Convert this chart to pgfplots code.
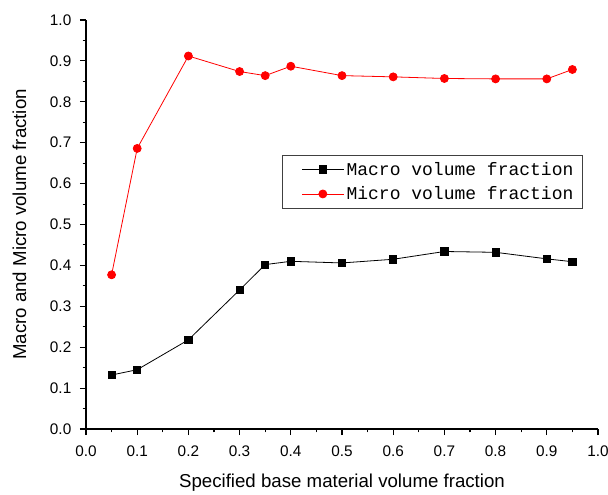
\documentclass[border=0pt]{standalone}
\usepackage{fontspec}
\setmainfont{Liberation Sans}
\newfontfamily\legfont{Liberation Mono}
\usepackage{pgfplots}
\pgfplotsset{compat=1.18}
\begin{document}
\begin{tikzpicture}
\path[use as bounding box] (-64.5pt,-48.75pt) rectangle (391.5pt,321.75pt);
\begin{axis}[
  scale only axis,
  width=384pt, height=306.75pt,
  xmin=0, xmax=1, ymin=0, ymax=1,
  axis lines=left,
  axis line style={-, line width=0.9pt},
  xtick={0,0.1,...,1.0}, ytick={0,0.1,...,1.0},
  minor x tick num=1, minor y tick num=1,
  tick align=outside,
  major tick length=4.5pt, minor tick length=2.5pt,
  tick style={black, line width=0.8pt},
  /pgf/number format/assume math mode=true,
  xticklabel style={yshift=-4.5pt, /pgf/number format/.cd, fixed, fixed zerofill, precision=1},
  yticklabel style={xshift=-3pt, /pgf/number format/.cd, fixed, fixed zerofill, precision=1},
  tick label style={font=\fontsize{11.5}{13}\selectfont},
  xlabel={Specified base material volume fraction},
  ylabel={Macro and Micro volume fraction},
  label style={font=\fontsize{14}{16}\selectfont},
  xlabel style={at={(axis description cs:0.5,-0.13)}, anchor=center},
  ylabel style={at={(axis description cs:-0.13,0.5)}, anchor=center},
  legend style={at={(axis description cs:0.971,0.67)}, anchor=north east,
    draw=black!75, line width=0.6pt, font=\legfont\fontsize{13.5}{16}\selectfont,
    inner xsep=5pt, inner ysep=3pt, row sep=3pt},
  legend image code/.code={
    \draw[draw=none] (-10pt,0pt) -- (0pt,0pt);
    \draw[#1] (0pt,0pt) -- (31pt,0pt);
    \draw[#1, only marks] plot coordinates {(15.5pt,0pt)};
  },
]
\addplot[black, line width=0.6pt, mark=square*, mark size=2.75pt] coordinates {
  (0.05,0.132) (0.1,0.145) (0.2,0.218) (0.3,0.340) (0.35,0.402) (0.4,0.410)
  (0.5,0.406) (0.6,0.415) (0.7,0.434) (0.8,0.432) (0.9,0.416) (0.95,0.409)
};
\addlegendentry{Macro volume fraction}
\addplot[red, line width=0.6pt, mark=*, mark size=3pt] coordinates {
  (0.05,0.377) (0.1,0.686) (0.2,0.912) (0.3,0.874) (0.35,0.864) (0.4,0.887)
  (0.5,0.864) (0.6,0.861) (0.7,0.857) (0.8,0.856) (0.9,0.856) (0.95,0.879)
};
\addlegendentry{Micro volume fraction}
\end{axis}
\end{tikzpicture}
\end{document}
